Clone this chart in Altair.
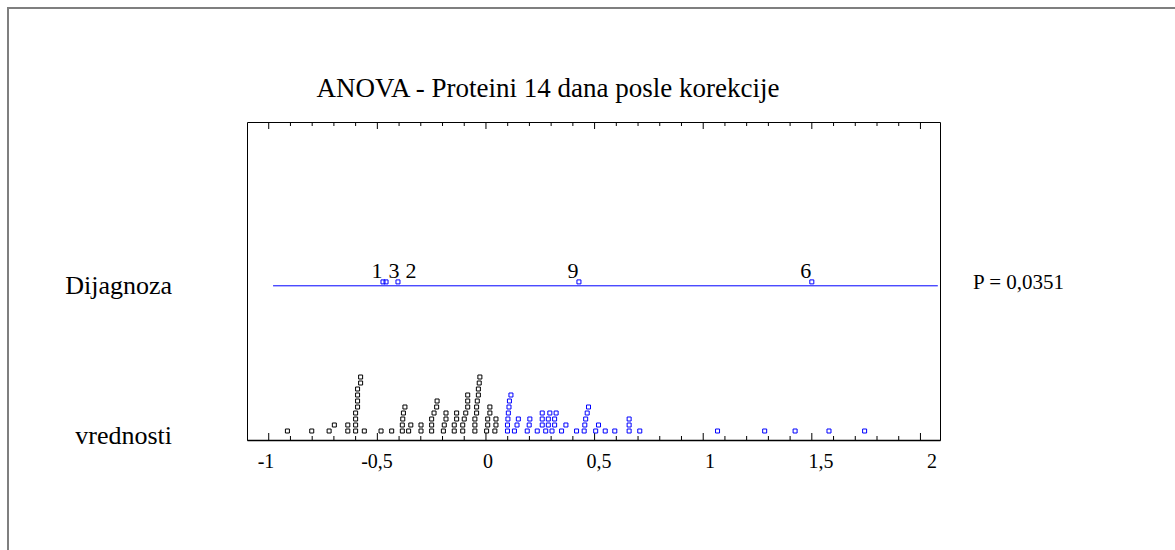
import altair as alt
import pandas as pd

# Pojedinačne vrednosti proteina (donji red), crni i plavi kvadratići
vrednosti_crne = [
    -0.914, -0.802, -0.722, -0.698, -0.636, -0.636,
    -0.600, -0.600, -0.600, -0.600, -0.591, -0.591, -0.591, -0.591,
    -0.577, -0.577, -0.560, -0.483, -0.434,
    -0.385, -0.385, -0.383, -0.380, -0.373, -0.356, -0.346,
    -0.299, -0.299, -0.250, -0.250, -0.250, -0.239, -0.227, -0.225,
    -0.196, -0.192, -0.184, -0.184, -0.146, -0.146, -0.135, -0.135,
    -0.107, -0.107, -0.100, -0.093, -0.084, -0.084, -0.084,
    -0.051, -0.051, -0.051, -0.043, -0.043, -0.040, -0.035, -0.035,
    -0.031, -0.028, 0.003, 0.008, 0.008, 0.018, 0.018, 0.041, 0.046, 0.046,
]
vrednosti_plave = [
    0.099, 0.099, 0.101, 0.103, 0.106, 0.108, 0.115, 0.131, 0.143, 0.149,
    0.190, 0.199, 0.202, 0.236, 0.259, 0.259, 0.259, 0.275, 0.287, 0.287,
    0.294, 0.304, 0.316, 0.316, 0.323, 0.348, 0.368, 0.417,
    0.452, 0.455, 0.459, 0.466, 0.472, 0.505, 0.518, 0.549, 0.593,
    0.659, 0.659, 0.659, 0.708, 1.066, 1.283, 1.423, 1.579, 1.743,
]

# Srednje vrednosti po dijagnozama
dijagnoze = ["1", "3", "2", "9", "6"]
srednje = [-0.474, -0.460, -0.405, 0.428, 1.500]

naslov = "ANOVA - Proteini 14 dana posle korekcije"
p_tekst = "P = 0,0351"
linija_od, linija_do = -0.98, 2.08

# Podeoci ose i njihove oznake
glavni = [-1, -0.5, 0, 0.5, 1, 1.5, 2]
oznake_ose = ["-1", "-0,5", "0", "0,5", "1", "1,5", "2"]

# Geometrija grafika
X_MIN, X_MAX = -1.1, 2.09
ETIKETE_MIN, ETIKETE_MAX = -1.0856, 2.036   # oznake ose su malo razvučene u odnosu na podeoke
W, H = 693, 318
RED_MIN, RED_MAX = -0.5, 52.5          # vertikalna skala u "redovima" kvadratića
RED_DIJAGNOZE = 25.2
PX = W / (X_MAX - X_MIN)               # piksela po jedinici
SIRINA = 0.027                         # minimalni razmak kvadratića u istom redu
FONT = "Liberation Serif"
PLAVA = "#0000ff"

# Slaganje tačaka u redove (svaka ide u najniži red u kome ne preklapa prethodnu)
tacke = sorted([(v, "crna") for v in vrednosti_crne] + [(v, "plava") for v in vrednosti_plave],
               key=lambda t: t[0])
krajevi, redovi = [], []
for v, boja in tacke:
    for i, k in enumerate(krajevi):
        if v - k >= SIRINA - 1e-9:
            krajevi[i] = v
            redovi.append(i + 1)
            break
    else:
        krajevi.append(v)
        redovi.append(len(krajevi))
df_tacke = pd.DataFrame({"vrednost": [t[0] for t in tacke],
                         "boja": [t[1] for t in tacke],
                         "red": redovi})

# Položaj oznaka dijagnoza (pomerene da se ne preklapaju)
pomak, razmak = 6 / PX, 17 / PX
parovi = sorted(zip(srednje, dijagnoze))
poz, prethodna = [], None
for m, _ in parovi:
    p = m - pomak
    if prethodna is not None:
        p = max(p, prethodna + razmak)
    poz.append(p)
    prethodna = p
df_srednje = pd.DataFrame({"srednja": [m for m, _ in parovi],
                           "oznaka": [o for _, o in parovi],
                           "poz": poz,
                           "red": RED_DIJAGNOZE + 0.65,
                           "red_oznake": RED_DIJAGNOZE + 1.3})

x_scale = alt.Scale(domain=[X_MIN, X_MAX], nice=False, zero=False)
y_scale = alt.Scale(domain=[RED_MIN, RED_MAX], nice=False, zero=False)

sporedni = [round(-1 + 0.1 * i, 1) for i in range(31)]
df_glavni = pd.DataFrame({"t": glavni, "oznaka": oznake_ose})
df_sporedni = pd.DataFrame({"t": [t for t in sporedni if t not in glavni]})

# Ista osa za sve slojeve, da bi se spojile u jednu (samo donja linija)
x_osa = alt.Axis(values=glavni, ticks=False, grid=False, title=None, labels=False,
                 domain=True, domainColor="black", domainWidth=1.5)

def X(polje):
    return alt.X(polje, scale=x_scale, axis=x_osa)

def Y(polje):
    return alt.Y(polje, scale=y_scale, axis=None)

kvadrati = alt.Chart(df_tacke).mark_point(shape="square", filled=False, size=16, strokeWidth=1,
                                          opacity=1).encode(
    x=X("vrednost:Q"),
    y=Y("red:Q"),
    color=alt.Color("boja:N", scale=alt.Scale(domain=["crna", "plava"], range=["black", PLAVA]),
                    legend=None),
)

linija = alt.Chart(pd.DataFrame({"od": [linija_od], "do": [linija_do], "red": [RED_DIJAGNOZE]})).mark_rule(
    color=PLAVA, strokeWidth=1).encode(x=X("od:Q"), x2="do:Q", y=Y("red:Q"))

sr_kvadrati = alt.Chart(df_srednje).mark_point(shape="square", filled=False, size=16, strokeWidth=1,
                                               color=PLAVA, opacity=1).encode(
    x=X("srednja:Q"), y=Y("red:Q"))

sr_oznake = alt.Chart(df_srednje).mark_text(font=FONT, fontSize=22, baseline="alphabetic",
                                            align="center", color="black").encode(
    x=X("poz:Q"), y=Y("red_oznake:Q"), text="oznaka:N")

def crtice(df, y0, y1):
    return alt.Chart(df).mark_rule(color="black", strokeWidth=1).encode(
        x=X("t:Q"), y=alt.value(y0), y2=alt.value(y1))

tick_slojevi = [
    crtice(df_glavni, H, H - 7), crtice(df_sporedni, H, H - 4),
    crtice(df_glavni, 0, 7), crtice(df_sporedni, 0, 4),
]

df_strane = pd.DataFrame({"tekst": ["Dijagnoza", "vrednosti"], "red": [RED_DIJAGNOZE - 0.1, 0.2]})
strane = alt.Chart(df_strane).mark_text(font=FONT, fontSize=26, align="right", baseline="middle",
                                        color="black").encode(
    x=alt.value(-75), y=Y("red:Q"), text="tekst:N")

p_sloj = alt.Chart(pd.DataFrame({"tekst": [p_tekst], "red": [RED_DIJAGNOZE + 0.5]})).mark_text(
    font=FONT, fontSize=21, align="left", baseline="middle", color="black").encode(
    x=alt.value(W + 33), y=Y("red:Q"), text="tekst:N")

# Naslov iznad okvira
naslov_sloj = alt.Chart(pd.DataFrame({"tekst": [naslov]})).mark_text(
    font=FONT, fontSize=27, align="center", baseline="alphabetic", color="black").encode(
    x=alt.value(301), y=alt.value(-25), text="tekst:N")

# Spoljni sivi okvir (leva i gornja ivica su vidljive)
okvir_levo = alt.Chart(df_sporedni).mark_rule(color="#7f7f7f", strokeWidth=2).encode(
    x=alt.value(-239), y=alt.value(-114), y2=alt.value(H + 200))
okvir_gore = alt.Chart(df_sporedni).mark_rule(color="#7f7f7f", strokeWidth=2).encode(
    x=alt.value(-240), x2=alt.value(W + 300), y=alt.value(-114))

osnovni = alt.layer(okvir_levo, okvir_gore, *tick_slojevi, linija, kvadrati, sr_kvadrati, sr_oznake,
                    strane, p_sloj, naslov_sloj)

# Oznake ispod ose, na sopstvenoj (malo razvučenoj) skali
oznake = alt.Chart(df_glavni).mark_text(font=FONT, fontSize=20, align="center", baseline="top",
                                        color="black").encode(
    x=alt.X("t:Q", scale=alt.Scale(domain=[ETIKETE_MIN, ETIKETE_MAX], nice=False, zero=False),
            axis=None),
    y=alt.value(H + 12), text="oznaka:N")

chart = alt.layer(osnovni, oznake).resolve_scale(x="independent").properties(
    width=W, height=H,
    background="white",
    autosize=alt.AutoSizeParams(type="none"),
    padding={"left": 247, "top": 122, "right": 1175 - 247 - W, "bottom": 550 - 122 - H},
).configure_view(stroke="black", strokeWidth=1)

chart.save("out.html", embed_options={"renderer": "svg", "actions": False})
